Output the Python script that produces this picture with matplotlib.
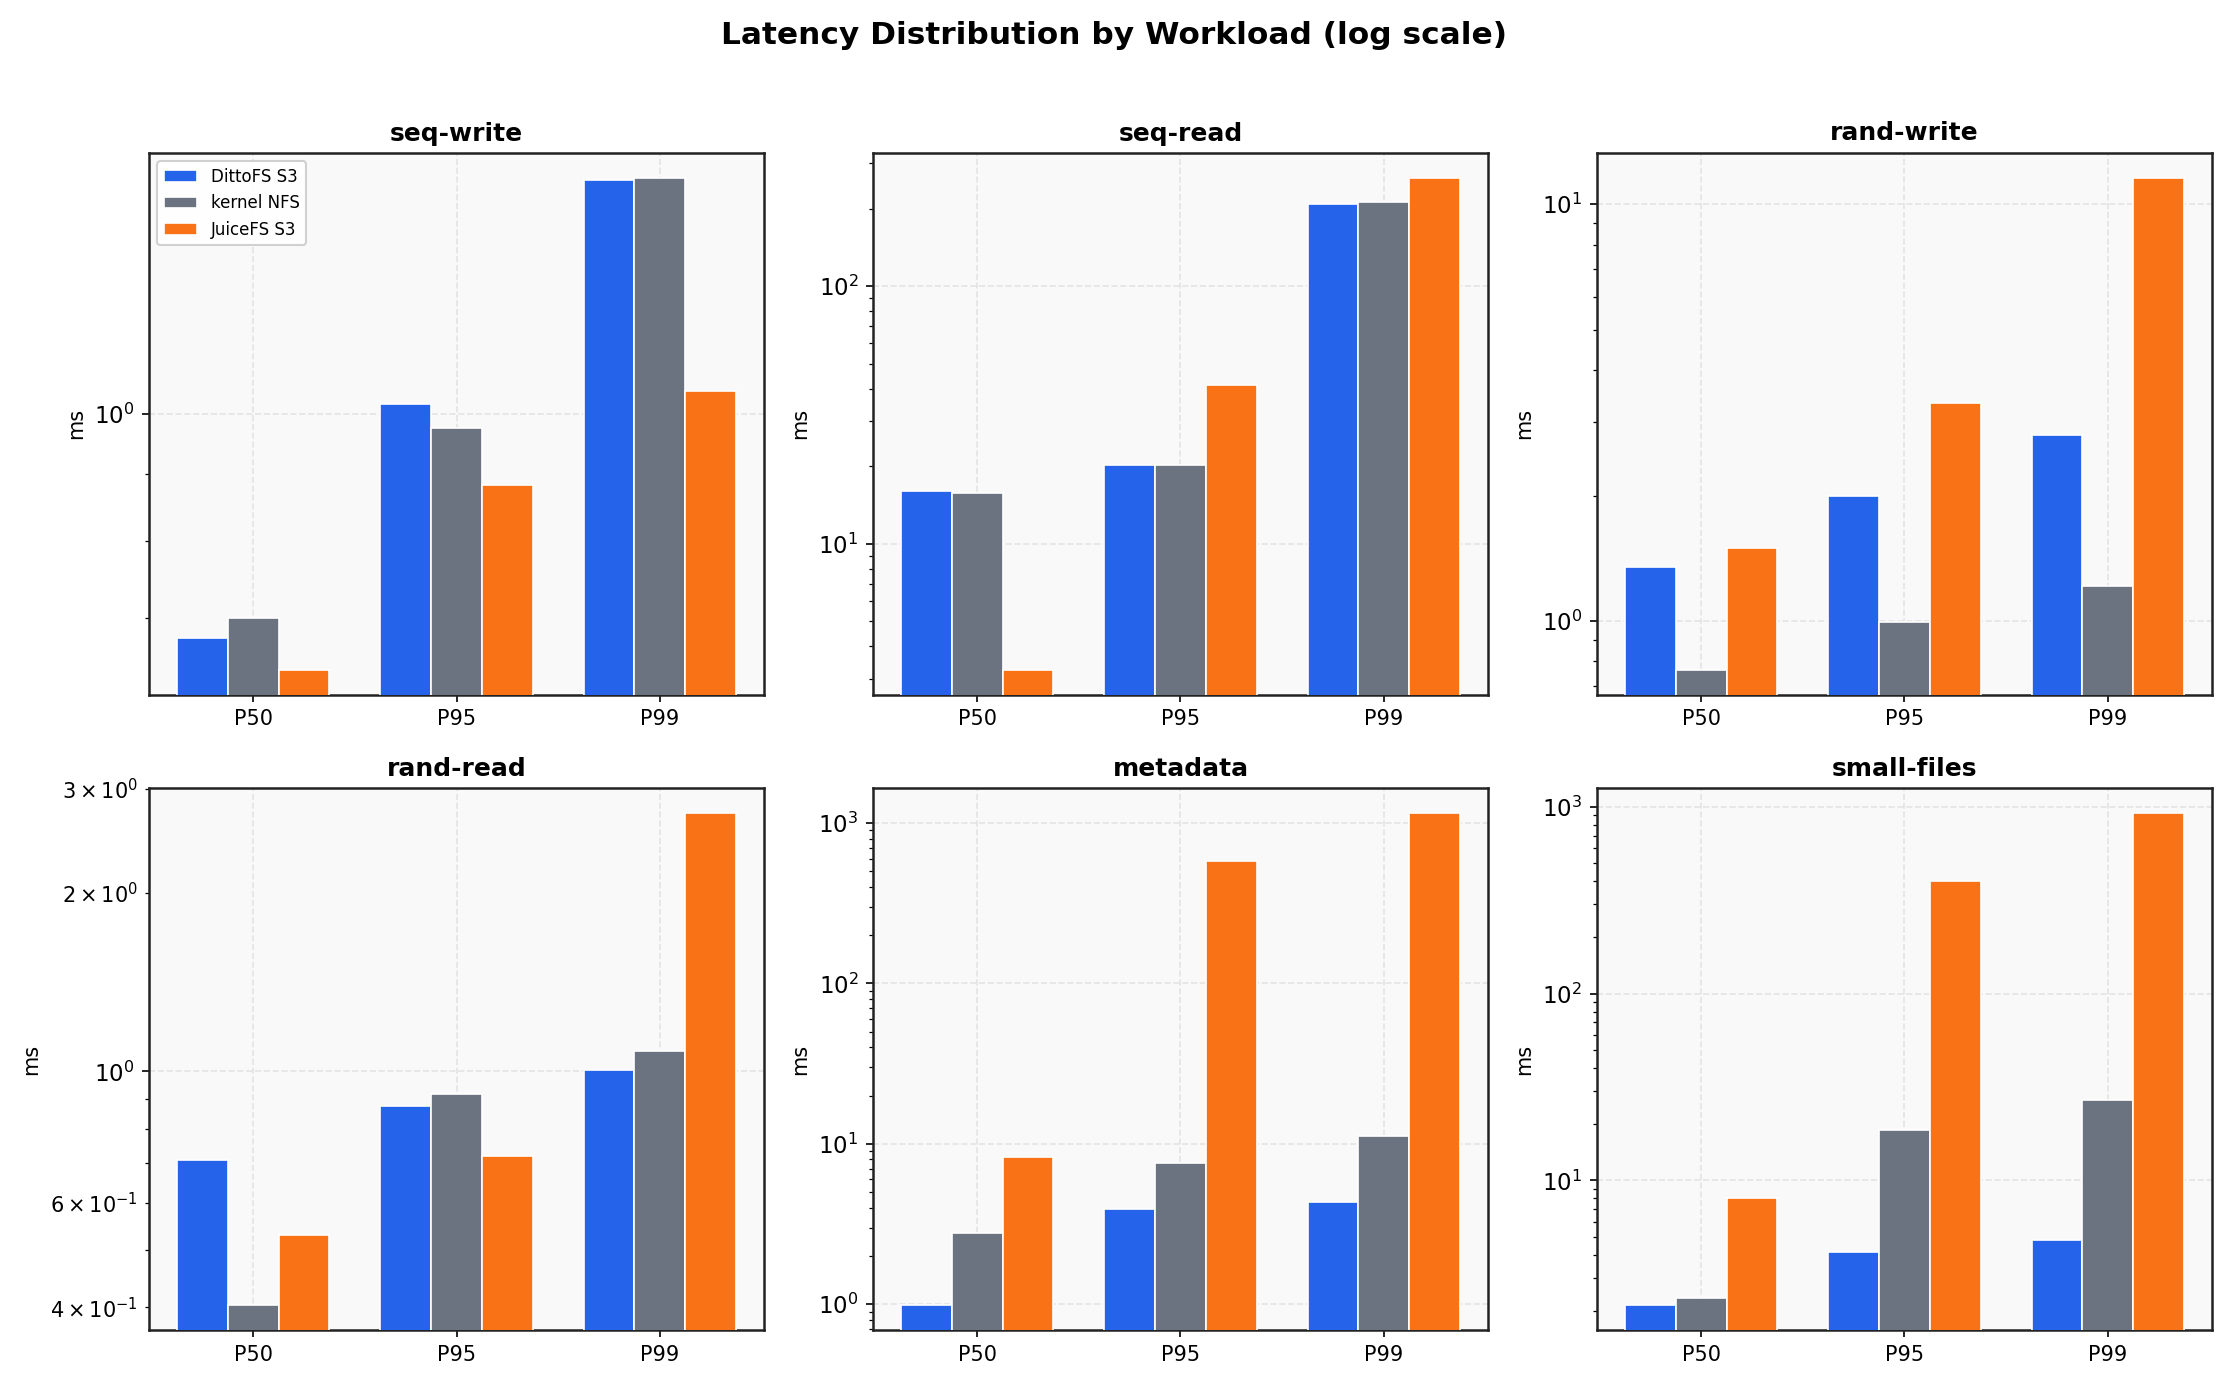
import matplotlib
matplotlib.use("Agg")
import matplotlib.pyplot as plt
import numpy as np

workloads = ["seq-write", "seq-read", "rand-write", "rand-read", "metadata", "small-files"]
percentiles = ["P50", "P95", "P99"]
systems = ["DittoFS S3", "kernel NFS", "JuiceFS S3"]
colors = ["#2563eb", "#6b7280", "#f97316"]

# latency in ms, per workload: [P50, P95, P99]
dittofs = {
    "seq-write": [0.676, 1.017, 1.503],
    "seq-read": [16.0, 20.3, 208],
    "rand-write": [1.346, 2.00, 2.79],
    "rand-read": [0.708, 0.874, 1.004],
    "metadata": [0.984, 3.94, 4.36],
    "small-files": [2.14, 4.11, 4.82],
}
kernel_nfs = {
    "seq-write": [0.700, 0.976, 1.510],
    "seq-read": [15.7, 20.2, 212],
    "rand-write": [0.763, 0.994, 1.212],
    "rand-read": [0.403, 0.915, 1.081],
    "metadata": [2.79, 7.62, 11.2],
    "small-files": [2.35, 18.7, 26.8],
}
juicefs = {
    "seq-write": [0.639, 0.882, 1.041],
    "seq-read": [3.24, 41.2, 264],
    "rand-write": [1.495, 3.33, 11.58],
    "rand-read": [0.529, 0.721, 2.73],
    "metadata": [8.30, 578, 1154],
    "small-files": [8.00, 399, 926],
}
series = [dittofs, kernel_nfs, juicefs]

W, H = 2228, 1381
dpi = 150
fig, axes = plt.subplots(2, 3, figsize=(W / dpi, H / dpi), dpi=dpi)
fig.subplots_adjust(left=149 / W, right=2212 / W, top=1 - 153 / H, bottom=1 - 1330 / H,
                    wspace=0.177, hspace=0.173)

x = np.arange(len(percentiles))
width = 0.25
for ax, wl in zip(axes.flat, workloads):
    ax.set_facecolor("#f9f9f9")
    for i, (s, name, c) in enumerate(zip(series, systems, colors)):
        ax.bar(x + (i - 1) * width, s[wl], width, label=name, color=c,
               edgecolor="white", linewidth=0.8, zorder=3)
    ax.set_yscale("log")
    ax.set_xticks(x)
    ax.set_xticklabels(percentiles, fontsize=10)
    ax.tick_params(axis="y", labelsize=11)
    ax.set_ylabel("ms", fontsize=10)
    ax.set_title(wl, fontsize=12, fontweight="bold")
    ax.grid(True, linestyle="--", alpha=0.5, color="#d0d0d0", zorder=0)
    ax.set_axisbelow(True)
    for sp in ax.spines.values():
        sp.set_color("#222222")
        sp.set_linewidth(1.2)

axes[0, 0].legend(loc="upper left", fontsize=8, framealpha=0.9)
fig.suptitle("Latency Distribution by Workload (log scale)", fontsize=15, fontweight="bold", y=0.985)
fig.savefig("out.png", dpi=dpi)
